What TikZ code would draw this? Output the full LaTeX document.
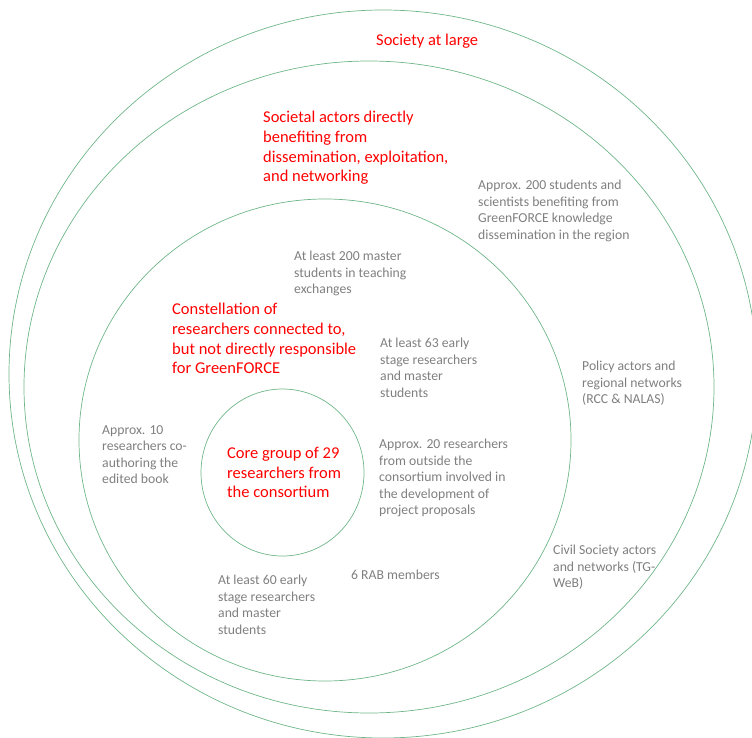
\documentclass[tikz,border=0pt]{standalone}
\usepackage{fontspec}
\setmainfont{Carlito}
\usepackage{xcolor}
\usepackage{tikz}
\definecolor{ringgreen}{RGB}{110,182,136}
\definecolor{notegrey}{RGB}{127,127,127}
\definecolor{headred}{RGB}{255,0,0}
\newcommand\hd{\fontsize{16.5}{19.7}\selectfont}
\newcommand\nt{\fontsize{13.7}{16.5}\selectfont}

\tikzset{
  ring/.style={draw=ringgreen, line width=0.7pt},
  head/.style={text=headred, align=left, inner sep=0pt, font=\hd},
  note/.style={text=notegrey, align=left, inner sep=0pt, font=\nt}
}

\begin{document}
\begin{tikzpicture}[x=1pt, y=-1pt]
        \useasboundingbox (0,0) rectangle (752,738);
        \clip (0,0) rectangle (752,738);

        % centres of the rings
        \coordinate (Soc) at (383, 374);
        \coordinate (Act) at (369, 387);
        \coordinate (Con) at (325, 440);
        \coordinate (Core) at (282.5, 472.5);

        % label corners
        \coordinate (SocL) at (376, 33.5);
        \coordinate (ActL) at (263, 111);
        \coordinate (Stud200L) at (478, 180);
        \coordinate (Mast200L) at (294, 251);
        \coordinate (ConL) at (172, 303);
        \coordinate (Esr63L) at (380, 338);
        \coordinate (PolL) at (582, 361);
        \coordinate (Book10L) at (102, 425);
        \coordinate (CoreL) at (227, 447);
        \coordinate (Res20L) at (379, 439);
        \coordinate (CivL) at (553, 545);
        \coordinate (RabL) at (351, 570);
        \coordinate (Esr60L) at (218, 575);

        \draw[ring] (Soc) ellipse [x radius=374pt, y radius=364pt];
        \draw[ring] (Act) ellipse [x radius=345pt, y radius=326pt];
        \draw[ring] (Con) ellipse [x radius=246pt, y radius=241pt];
        \draw[ring] (Core) ellipse [x radius=81.5pt, y radius=83.5pt];

        \node[head, below right] (society) at (SocL) {Society at large};
        \node[head, below right] (actors) at (ActL)
          {Societal actors directly\\benefiting from\\dissemination, exploitation,\\and networking};
        \node[note, below right] (stud200) at (Stud200L)
          {Approx. 200 students and\\scientists benefiting from\\GreenFORCE knowledge\\dissemination in the region};
        \node[note, below right] (mast200) at (Mast200L)
          {At least 200 master\\students in teaching\\exchanges};
        \node[head, below right] (constell) at (ConL)
          {Constellation of\\researchers connected to,\\but not directly responsible\\for GreenFORCE};
        \node[note, below right] (esr63) at (Esr63L)
          {At least 63 early\\stage researchers\\and master\\students};
        \node[note, below right] (policy) at (PolL)
          {Policy actors and\\regional networks\\(RCC \& NALAS)};
        \node[note, below right] (book10) at (Book10L)
          {Approx. 10\\researchers co-\\authoring the\\edited book};
        \node[head, below right] (coregroup) at (CoreL)
          {Core group of 29\\researchers from\\the consortium};
        \node[note, below right] (res20) at (Res20L)
          {Approx. 20 researchers\\from outside the\\consortium involved in\\the development of\\project proposals};
        \node[note, below right] (civil) at (CivL)
          {Civil Society actors\\and networks (TG-\\WeB)};
        \node[note, below right] (rab) at (RabL) {6 RAB members};
        \node[note, below right] (esr60) at (Esr60L)
          {At least 60 early\\stage researchers\\and master\\students};
      \end{tikzpicture}
\end{document}
